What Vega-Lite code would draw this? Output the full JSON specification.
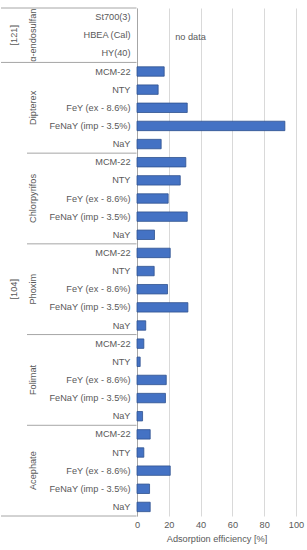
{
  "$schema": "https://vega.github.io/schema/vega-lite/v6.json",
  "padding": {"left": 0, "top": 7, "right": 8, "bottom": 0},
  "autosize": {"type": "pad"},
  "bounds": "flush",
  "spacing": 0,
  "data": {"values": [
    {"outer": "[121]", "group": "α-endosulfan", "material": "St700(3)", "value": null},
    {"outer": "[121]", "group": "α-endosulfan", "material": "HBEA (Cal)", "value": null, "note": "no data"},
    {"outer": "[121]", "group": "α-endosulfan", "material": "HY(40)", "value": null},
    {"outer": "[104]", "group": "Dipterex", "material": "MCM-22", "value": 17.1},
    {"outer": "[104]", "group": "Dipterex", "material": "NTY", "value": 13.3},
    {"outer": "[104]", "group": "Dipterex", "material": "FeY (ex - 8.6%)", "value": 31.6},
    {"outer": "[104]", "group": "Dipterex", "material": "FeNaY (imp - 3.5%)", "value": 93},
    {"outer": "[104]", "group": "Dipterex", "material": "NaY", "value": 15.2},
    {"outer": "[104]", "group": "Chlorpyrifos", "material": "MCM-22", "value": 30.7},
    {"outer": "[104]", "group": "Chlorpyrifos", "material": "NTY", "value": 27.2},
    {"outer": "[104]", "group": "Chlorpyrifos", "material": "FeY (ex - 8.6%)", "value": 19.6},
    {"outer": "[104]", "group": "Chlorpyrifos", "material": "FeNaY (imp - 3.5%)", "value": 31.6},
    {"outer": "[104]", "group": "Chlorpyrifos", "material": "NaY", "value": 11},
    {"outer": "[104]", "group": "Phoxim", "material": "MCM-22", "value": 20.9},
    {"outer": "[104]", "group": "Phoxim", "material": "NTY", "value": 10.8},
    {"outer": "[104]", "group": "Phoxim", "material": "FeY (ex - 8.6%)", "value": 19.2},
    {"outer": "[104]", "group": "Phoxim", "material": "FeNaY (imp - 3.5%)", "value": 32},
    {"outer": "[104]", "group": "Phoxim", "material": "NaY", "value": 5.5},
    {"outer": "[104]", "group": "Folimat", "material": "MCM-22", "value": 4.3},
    {"outer": "[104]", "group": "Folimat", "material": "NTY", "value": 2},
    {"outer": "[104]", "group": "Folimat", "material": "FeY (ex - 8.6%)", "value": 18.4},
    {"outer": "[104]", "group": "Folimat", "material": "FeNaY (imp - 3.5%)", "value": 17.9},
    {"outer": "[104]", "group": "Folimat", "material": "NaY", "value": 3.5},
    {"outer": "[104]", "group": "Acephate", "material": "MCM-22", "value": 8.3},
    {"outer": "[104]", "group": "Acephate", "material": "NTY", "value": 4.3},
    {"outer": "[104]", "group": "Acephate", "material": "FeY (ex - 8.6%)", "value": 20.9},
    {"outer": "[104]", "group": "Acephate", "material": "FeNaY (imp - 3.5%)", "value": 7.9},
    {"outer": "[104]", "group": "Acephate", "material": "NaY", "value": 8.3}
  ]},
  "transform": [{"calculate": "datum.group + '|' + datum.material", "as": "key"}],
  "resolve": {"scale": {"y": "shared"}},
  "config": {
    "view": {"stroke": null},
    "font": "Liberation Sans",
    "scale": {"bandPaddingInner": 0, "bandPaddingOuter": 0, "barBandPaddingInner": 0},
    "axisX": {"labelOverlap": false, "labelFlush": false, "grid": true, "gridColor": "#D9D9D9", "domain": false, "ticks": false, "labelPadding": 4, "titlePadding": 5, "labelFontSize": 9.2, "titleFontSize": 9.2, "titleFontWeight": "normal", "titleColor": "#595959", "labelColor": "#595959", "labelFont": "Liberation Sans", "titleFont": "Liberation Sans"}
  },
  "hconcat": [
    {
      "width": 26, "height": 508,
      "layer": [
        {
          "mark": {"type": "rule", "color": "#A6A6A6", "strokeWidth": 1},
          "encoding": {
            "y": {"field": "key", "type": "nominal", "sort": null, "bandPosition": 0, "axis": null, "scale": {"type": "band", "paddingInner": 0, "paddingOuter": 0}},
            "strokeOpacity": {"condition": {"test": "datum.material == 'St700(3)' || datum.key == 'Dipterex|MCM-22'", "value": 1}, "value": 0}
          }
        },
        {
          "mark": {"type": "rule", "color": "#A6A6A6", "strokeWidth": 1},
          "encoding": {
            "y": {"field": "key", "type": "nominal", "sort": null, "bandPosition": 1, "axis": null, "scale": {"type": "band", "paddingInner": 0, "paddingOuter": 0}},
            "strokeOpacity": {"condition": {"test": "datum.key == 'Acephate|NaY'", "value": 1}, "value": 0}
          }
        },
        {
          "mark": {"type": "text", "angle": 270, "fontSize": 9.2, "color": "#595959", "align": "center", "baseline": "middle"},
          "encoding": {
            "y": {"field": "key", "type": "nominal", "sort": null, "axis": null, "scale": {"type": "band", "paddingInner": 0, "paddingOuter": 0}},
            "text": {"condition": {"test": "datum.key == 'α-endosulfan|HBEA (Cal)' || datum.key == 'Phoxim|FeY (ex - 8.6%)'", "field": "outer", "type": "nominal"}, "value": ""}
          }
        }
      ]
    },
    {
      "width": 12, "height": 508,
      "layer": [
        {
          "mark": {"type": "rule", "color": "#A6A6A6", "strokeWidth": 1},
          "encoding": {
            "y": {"field": "key", "type": "nominal", "sort": null, "bandPosition": 0, "axis": null, "scale": {"type": "band", "paddingInner": 0, "paddingOuter": 0}},
            "strokeOpacity": {"condition": {"test": "datum.material == 'St700(3)' || datum.material == 'MCM-22'", "value": 1}, "value": 0}
          }
        },
        {
          "mark": {"type": "rule", "color": "#A6A6A6", "strokeWidth": 1},
          "encoding": {
            "y": {"field": "key", "type": "nominal", "sort": null, "bandPosition": 1, "axis": null, "scale": {"type": "band", "paddingInner": 0, "paddingOuter": 0}},
            "strokeOpacity": {"condition": {"test": "datum.key == 'Acephate|NaY'", "value": 1}, "value": 0}
          }
        },
        {
          "mark": {"type": "text", "angle": 270, "fontSize": 9.2, "color": "#595959", "align": "center", "baseline": "middle"},
          "encoding": {
            "y": {"field": "key", "type": "nominal", "sort": null, "axis": null, "scale": {"type": "band", "paddingInner": 0, "paddingOuter": 0}},
            "text": {"condition": {"test": "datum.material == 'HBEA (Cal)' || datum.material == 'FeY (ex - 8.6%)'", "field": "group", "type": "nominal"}, "value": ""}
          }
        }
      ]
    },
    {
      "width": 97.5, "height": 508,
      "layer": [
        {
          "mark": {"type": "rule", "color": "#A6A6A6", "strokeWidth": 1},
          "encoding": {
            "y": {"field": "key", "type": "nominal", "sort": null, "bandPosition": 0, "axis": null, "scale": {"type": "band", "paddingInner": 0, "paddingOuter": 0}},
            "strokeOpacity": {"condition": {"test": "datum.material == 'St700(3)' || datum.material == 'MCM-22'", "value": 1}, "value": 0}
          }
        },
        {
          "mark": {"type": "rule", "color": "#A6A6A6", "strokeWidth": 1},
          "encoding": {
            "y": {"field": "key", "type": "nominal", "sort": null, "bandPosition": 1, "axis": null, "scale": {"type": "band", "paddingInner": 0, "paddingOuter": 0}},
            "strokeOpacity": {"condition": {"test": "datum.key == 'Acephate|NaY'", "value": 1}, "value": 0}
          }
        }
      ]
    },
    {
      "width": 159, "height": 508,
      "layer": [
        {
          "mark": {"type": "text", "align": "left", "baseline": "middle", "fontSize": 9.2, "color": "#595959", "dy": 2},
          "encoding": {
            "y": {"field": "key", "type": "nominal", "sort": null, "scale": {"type": "band", "paddingInner": 0, "paddingOuter": 0},
                  "axis": {"title": null, "labelExpr": "split(datum.value, '|')[1]", "labelAlign": "right", "labelBaseline": "middle", "labelPadding": 7, "ticks": false, "domain": true, "domainColor": "#A6A6A6", "labelColor": "#595959", "labelFontSize": 9.2, "labelFont": "Liberation Sans", "grid": false, "labelLimit": 200}},
            "x": {"datum": 24, "type": "quantitative", "scale": {"domain": [0, 100], "nice": false},
                  "axis": {"title": "Adsorption efficiency [%]", "values": [0, 20, 40, 60, 80, 100]}},
            "text": {"condition": {"test": "isValid(datum.note)", "field": "note", "type": "nominal"}, "value": ""}
          }
        },
        {
          "mark": {"type": "bar", "height": {"band": 0.52}, "fill": "#4472C4", "stroke": "#2F528F", "strokeWidth": 0.8},
          "encoding": {
            "y": {"field": "key", "type": "nominal", "sort": null, "scale": {"type": "band", "paddingInner": 0, "paddingOuter": 0}},
            "x": {"field": "value", "type": "quantitative", "scale": {"domain": [0, 100], "nice": false},
                  "axis": {"title": "Adsorption efficiency [%]", "values": [0, 20, 40, 60, 80, 100]}}
          }
        }
      ]
    }
  ]
}
